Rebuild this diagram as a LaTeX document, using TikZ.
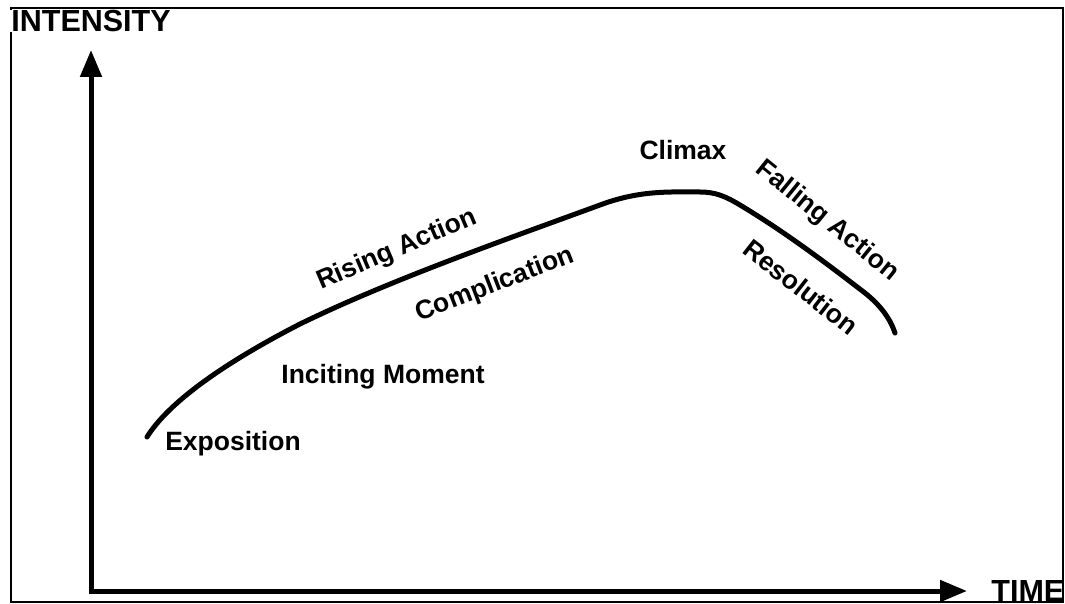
\documentclass[tikz,border=0pt]{standalone}
\usepackage{fontspec}
\setmainfont{Liberation Sans}
\usetikzlibrary{arrows.meta,positioning}
\tikzset{>={Triangle[length=27pt,width=21pt]}}

\begin{document}
\begin{tikzpicture}[x=1pt, y=-1pt, thick,
    axis/.style={line width=5pt, ->},
    story/.style={line width=5pt, line cap=round},
    stage/.style={font=\fontsize{26.5}{28}\selectfont\bfseries, inner sep=0pt},
    axislabel/.style={font=\fontsize{30.5}{32}\selectfont\bfseries, inner sep=0pt}]
            \useasboundingbox (0,0) rectangle (1065,604);
            \draw[line width=2pt] (11,8) rectangle (1063,602);
            % axes
            \coordinate (origin) at (91,591);
            \coordinate (intensity-end) at (91,50);
            \coordinate (time-end) at (967,591);
            \draw[axis] ([yshift=2.5pt]origin) -- (intensity-end);
            \draw[axis] ([xshift=-2.5pt]origin) -- (time-end);
            \node[axislabel, anchor=north west, fill=white, inner xsep=1pt] (intensity) at (10,10) {INTENSITY};
            \node[axislabel, anchor=south west] (time) at (991,602) {TIME};
            % plot line
            \draw[story] (147,437) .. controls (170,400) and (230,360) .. (300,324)
                .. controls (390,280) and (510,238) .. (600,205)
                .. controls (640,190) and (670,192) .. (700,192)
                .. controls (715,192) and (725,196) .. (740,205)
                .. controls (790,235) and (835,270) .. (865,293)
                .. controls (880,305) and (890,318) .. (895,333);
            % stages
            \node[stage] (exposition) at (233,444) {Exposition};
            \node[stage] (inciting) at (383,377) {Inciting Moment};
            \node[stage, rotate=23] (rising) at (397,250) {Rising Action};
            \node[stage, rotate=21] (complication) at (495,285) {Complication};
            \node[stage] (climax) at (683,150) {Climax};
            \node[stage, rotate=-39] (falling) at (827,221) {Falling Action};
            \node[stage, rotate=-38] (resolution) at (801,287) {Resolution};
        \end{tikzpicture}
\end{document}
